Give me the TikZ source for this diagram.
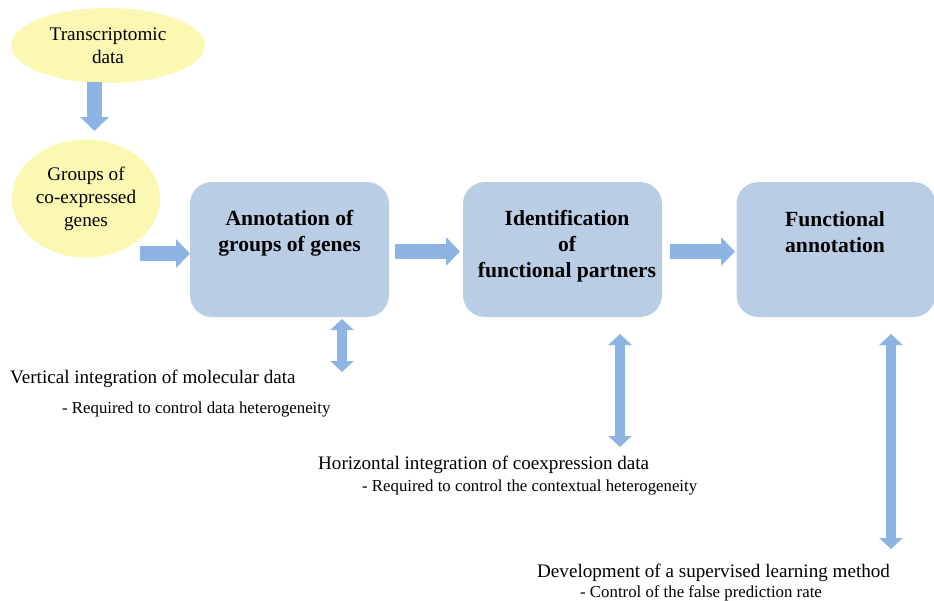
\documentclass[tikz,border=0pt]{standalone}
\usepackage{fontspec}
\setmainfont{Liberation Serif}
\usetikzlibrary{arrows.meta,calc,shapes.geometric}
\definecolor{ellfill}{HTML}{FAF8B2}
\definecolor{boxfill}{HTML}{B9CDE5}
\definecolor{arrfill}{HTML}{8EB4E3}
\tikzset{
  ell/.style={ellipse, fill=ellfill, draw=none, align=center, font=\fontsize{19.2}{23}\selectfont, inner sep=0pt},
  stagebox/.style={rounded corners=22pt, fill=boxfill, draw=none, minimum width=199pt, minimum height=135pt, inner sep=0pt},
  boxtitle/.style={align=center, font=\bfseries\fontsize{21.6}{26}\selectfont},
  fatarrow/.style={draw=arrfill, line width=15pt, -{Triangle[width=28pt,length=14pt,fill=arrfill]}},
  dblarrow/.style={draw=arrfill, line width=10.5pt, {Triangle[width=23pt,length=11pt,fill=arrfill]}-{Triangle[width=23pt,length=11pt,fill=arrfill]}},
  bigtext/.style={font=\fontsize{19.1}{22}\selectfont, inner sep=0pt, anchor=base west},
  smalltext/.style={font=\fontsize{16.8}{20}\selectfont, inner sep=0pt, anchor=base west},
}
\begin{document}
\begin{tikzpicture}[x=1pt,y=-1pt]
\useasboundingbox (0,0) rectangle (934,600);
% ellipses
\node[ell, minimum width=194pt, minimum height=75pt] (td) at (108,45.5) {Transcriptomic\\data};
\node[ell, minimum width=148pt, minimum height=118pt] (gc) at (86,198.5) {Groups of\\co-expressed\\genes};
% boxes
\node[stagebox] (b1) at (289.5,249.5) {};
\node[stagebox] (b2) at (562.5,249.5) {};
\node[stagebox] (b3) at (836,249.5) {};
\node[boxtitle, anchor=north] (t1) at (289.5,207) {Annotation of\\groups of genes};
\node[boxtitle, anchor=north] (t2) at (567,207) {Identification\\of\\functional partners};
\node[boxtitle, anchor=north] (t3) at (835,208) {Functional\\annotation};
% coordinates for arrows
\coordinate (a0s) at (94.5,82);
\coordinate (a0e) at (94.5,131);
\coordinate (a1s) at (140,253.5);
\coordinate (a1e) at (190,253.5);
\coordinate (a2s) at (395,251.5);
\coordinate (a2e) at (460,251.5);
\coordinate (a3s) at (670,251.5);
\coordinate (a3e) at (735,251.5);
\coordinate (d1s) at (342,319);
\coordinate (d1e) at (342,372);
\coordinate (d2s) at (620,334);
\coordinate (d2e) at (620,447);
\coordinate (d3s) at (891,334);
\coordinate (d3e) at (891,549);
\draw[fatarrow] (a0s) -- (a0e);
\draw[fatarrow] (a1s) -- (a1e);
\draw[fatarrow] (a2s) -- (a2e);
\draw[fatarrow] (a3s) -- (a3e);
\draw[dblarrow] (d1s) -- (d1e);
\draw[dblarrow] (d2s) -- (d2e);
\draw[dblarrow] (d3s) -- (d3e);
% texts
\node[bigtext] (v1) at (10,383) {Vertical integration of molecular data};
\node[smalltext] (v2) at (62,413) {- Required to control data heterogeneity};
\node[bigtext] (h1) at (318,469) {Horizontal integration of coexpression data};
\node[smalltext] (h2) at (362,491) {- Required to control the contextual heterogeneity};
\node[bigtext] (s1) at (537,577) {Development of a supervised learning method};
\node[smalltext] (s2) at (580,597) {- Control of the false prediction rate};
\end{tikzpicture}
\end{document}
